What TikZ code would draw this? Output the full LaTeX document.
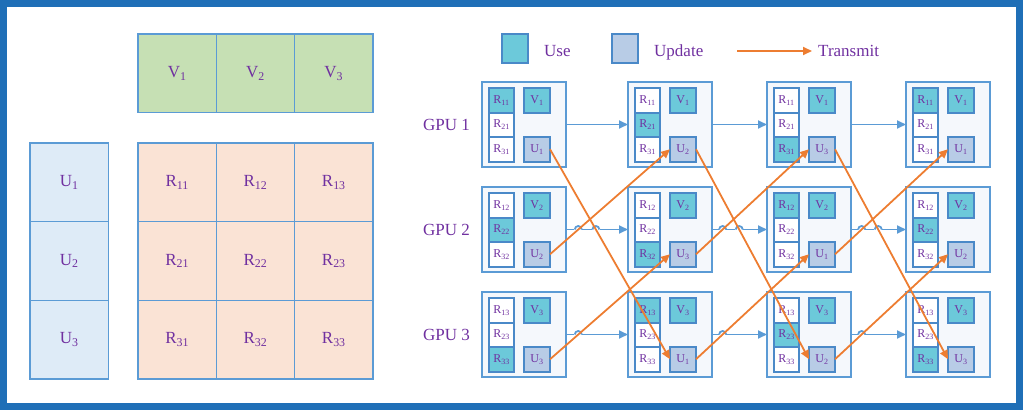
\documentclass[tikz,border=0pt]{standalone}
\usepackage{fontspec}
\setmainfont{Liberation Serif}
\usetikzlibrary{arrows.meta,calc,positioning}
\definecolor{framebl}{HTML}{1F6FB7}
\definecolor{edgebl}{HTML}{5B9BD5}
\definecolor{cellbl}{HTML}{4A89C8}
\definecolor{txtpurple}{HTML}{7030A0}
\definecolor{vgreen}{HTML}{C6E0B4}
\definecolor{ublue}{HTML}{DEEBF7}
\definecolor{rpeach}{HTML}{FAE3D5}
\definecolor{usefill}{HTML}{6CC9DA}
\definecolor{updfill}{HTML}{B8CCE6}
\definecolor{boxfill}{HTML}{F5F8FC}
\definecolor{xmitor}{HTML}{ED7D31}
\tikzset {
  >=Stealth,
  every node/.style={text=txtpurple, font=\fontsize{17}{20}\selectfont},
  bigcell/.style={draw=edgebl, line width=1.6pt, inner sep=0pt, outer sep=0pt,
    anchor=north west, minimum width=78.33pt, minimum height=78.67pt},
  gpubox/.style={draw=edgebl, fill=boxfill, line width=1.6pt, inner sep=0pt,
    outer sep=0pt, anchor=north west, minimum width=84pt, minimum height=85pt},
  smallcell/.style={draw=cellbl, line width=2pt, inner sep=0pt, outer sep=0pt,
    anchor=north west, minimum width=25pt, minimum height=24.5pt,
    font=\fontsize{12}{13}\selectfont},
  keysq/.style={smallcell, minimum width=26pt, minimum height=29pt},
  passline/.style={draw=edgebl, line width=1.8pt},
  pass/.style={passline, -{Triangle[length=9pt,width=8pt]}},
  xmit/.style={draw=xmitor, line width=1.8pt, -{Triangle[length=9pt,width=8pt]}},
}
% bump of a blue arrow where an orange one crosses it
\newcommand\hopover[1]{%
  \fill[white] ($(#1)+(-3.8,-1.8)$) rectangle ($(#1)+(3.8,1.8)$);
  \draw[passline] ($(#1)+(-3.5,0)$) arc[start angle=180, end angle=360, radius=3.5];
}

\begin{document}
\begin{tikzpicture}[x=1pt,y=-1pt]
  \useasboundingbox (0,0) rectangle (1025,412);
  \draw[framebl, line width=7pt] (3.5,3.5) rectangle (1019.5,406.5);

  % the rating matrix and its factors
  \foreach \j in {1,2,3}
    \node[bigcell, fill=vgreen] (matV\j) at ({138+78.33*(\j-1)},34) {V\textsubscript{\j}};
  \foreach \i in {1,2,3} {
    \node[bigcell, fill=ublue] (matU\i) at (30,{143+78.67*(\i-1)}) {U\textsubscript{\i}};
    \foreach \j in {1,2,3}
      \node[bigcell, fill=rpeach] (matR\i\j) at ({138+78.33*(\j-1)},{143+78.67*(\i-1)})
        {R\textsubscript{\i\j}};
  }

  % legend
  \node[keysq, fill=usefill] (keyuse) at (502,34) {};
  \node[anchor=base west, inner sep=0pt] (keyusetxt) at (544,57) {Use};
  \node[keysq, fill=updfill] (keyupd) at (612,34) {};
  \node[anchor=base west, inner sep=0pt] (keyupdtxt) at (654,57) {Update};
  \coordinate (xa) at (737,51);
  \coordinate (xb) at (812,51);
  \draw[xmit] (xa) -- (xb);
  \node[anchor=base west, inner sep=0pt] (keyxmit) at (818,57) {Transmit};

  % one box per step and GPU
  \foreach \s/\bx in {1/482,2/628,3/767,4/906}
    \foreach \g/\by in {1/82,2/187,3/292} {
      \pgfmathtruncatemacro\uid{mod(\g+\s-2,3)+1}
      \node[gpubox] (b\s\g) at (\bx,\by) {};
      \foreach \i in {1,2,3} {
        \ifnum\i=\uid \def\rfill{usefill}\else \def\rfill{white}\fi
        \node[smallcell, fill=\rfill] (r\s\g\i) at ({\bx+7},{\by+6+24.5*(\i-1)})
          {R\textsubscript{\i\g}};
      }
      \node[smallcell, minimum width=26pt, fill=usefill] (v\s\g) at ({\bx+42},{\by+6})
        {V\textsubscript{\g}};
      \node[smallcell, minimum width=26pt, fill=updfill] (u\s\g) at ({\bx+42},{\by+55})
        {U\textsubscript{\uid}};
    }
  \foreach \g in {1,2,3}
    \node[left=11pt of b1\g, inner sep=1pt] (gpu\g) {GPU \g};

  \foreach \s/\t in {1/2,2/3,3/4} {
    \foreach \g in {1,2,3}
      \draw[pass] (b\s\g) -- (b\t\g);
    \coordinate (hopa\s) at (intersection of u\s2.east--u\t1.west and b\s2.east--b\t2.west);
    \coordinate (hopb\s) at (intersection of u\s1.east--u\t3.west and b\s2.east--b\t2.west);
    \coordinate (hopc\s) at (intersection of u\s3.east--u\t2.west and b\s3.east--b\t3.west);
    \hopover{hopa\s}
    \hopover{hopb\s}
    \hopover{hopc\s}
  }

  % U blocks handed on to the next GPU
  \foreach \s/\t in {1/2,2/3,3/4} {
    \draw[xmit] (u\s1.east) -- (u\t3.west);
    \draw[xmit] (u\s2.east) -- (u\t1.west);
    \draw[xmit] (u\s3.east) -- (u\t2.west);
  }
\end{tikzpicture}
\end{document}
